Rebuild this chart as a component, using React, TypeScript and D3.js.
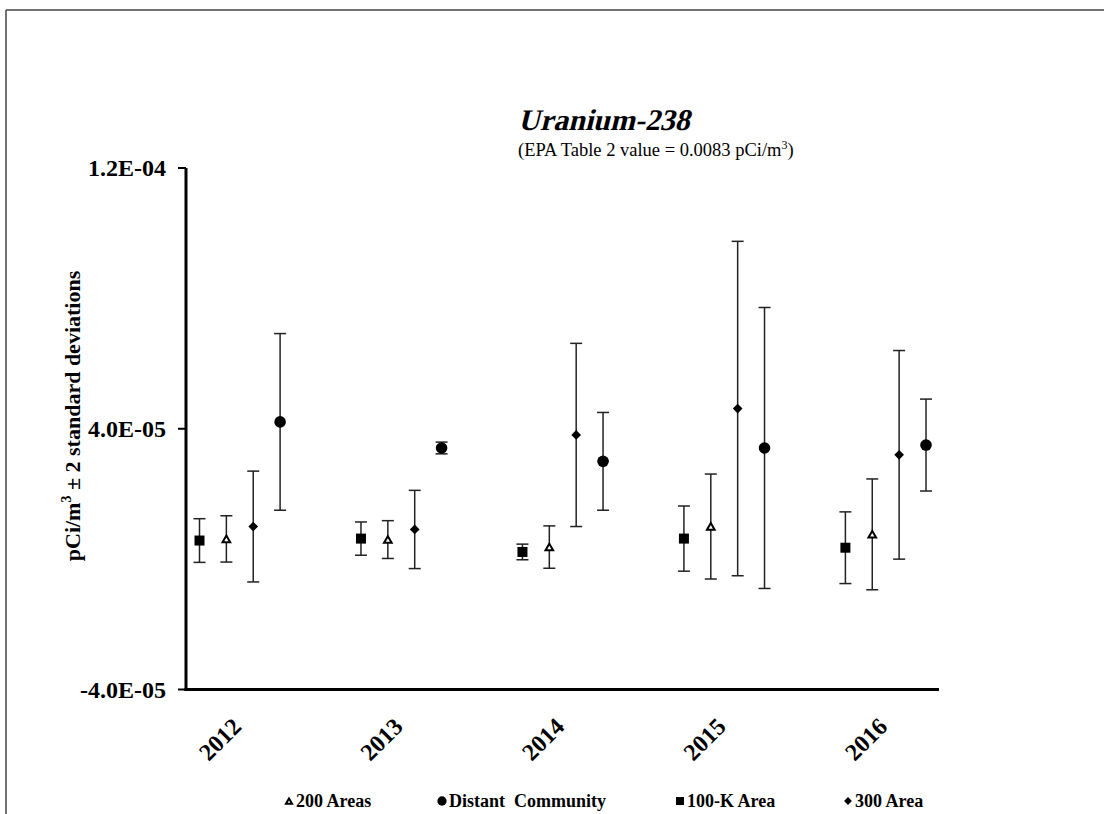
import * as d3 from "d3";

const years = ["2012", "2013", "2014", "2015", "2016"];
const seriesNames = ["100-K Area", "200 Areas", "300 Area", "Distant Community"];
// values and 2-sigma errors, pCi/m3
const k100 = [5.7e-6, 6.3e-6, 2.2e-6, 6.3e-6, 3.5e-6];
const k100Err = [6.7e-6, 5.1e-6, 2.4e-6, 1.0e-5, 1.1e-5];
const a200 = [6.2e-6, 6.0e-6, 3.7e-6, 1.0e-5, 7.6e-6];
const a200Err = [7.1e-6, 5.8e-6, 6.5e-6, 1.61e-5, 1.7e-5];
const a300 = [1.0e-5, 9.1e-6, 3.81e-5, 4.62e-5, 3.2e-5];
const a300Err = [1.7e-5, 1.2e-5, 2.81e-5, 5.13e-5, 3.2e-5];
const distant = [4.21e-5, 3.41e-5, 3.0e-5, 3.41e-5, 3.5e-5];
const distantErr = [2.71e-5, 1.8e-6, 1.5e-5, 4.31e-5, 1.41e-5];
const yTicks = [-4e-5, 4e-5, 1.2e-4];

const series = [
  { name: seriesNames[0], values: k100, errs: k100Err, shape: "square" },
  { name: seriesNames[1], values: a200, errs: a200Err, shape: "triangle" },
  { name: seriesNames[2], values: a300, errs: a300Err, shape: "diamond" },
  { name: seriesNames[3], values: distant, errs: distantErr, shape: "circle" },
];

// legend order as in the original
const legendItems = [
  { name: "200 Areas", shape: "triangle", x: 296 },
  { name: "Distant  Community", shape: "circle", x: 449 },
  { name: "100-K Area", shape: "square", x: 687 },
  { name: "300 Area", shape: "diamond", x: 855 },
];

const font = "'Liberation Serif', 'Times New Roman', serif";

const fmt = (d: number) => {
  const [m, e] = d.toExponential(1).split("e");
  const n = parseInt(e, 10);
  return `${m}E${n < 0 ? "-" : "+"}${String(Math.abs(n)).padStart(2, "0")}`;
};

const Marker = ({ shape, x, y, s = 1 }: { shape: string; x: number; y: number; s?: number }) => {
  if (shape === "square")
    return <rect x={x - 5 * s} y={y - 5 * s} width={10 * s} height={10 * s} fill="#000" />;
  if (shape === "circle") return <circle cx={x} cy={y} r={5.8 * s} fill="#000" />;
  if (shape === "diamond") {
    const p = d3.symbol().type(d3.symbolDiamond2).size(60 * s * s)();
    return <path d={p || ""} transform={`translate(${x},${y})`} fill="#000" />;
  }
  const p = d3.symbol().type(d3.symbolTriangle2).size(42 * s * s)();
  return (
    <path d={p || ""} transform={`translate(${x},${y + 1})`} fill="#fff" stroke="#000" strokeWidth={2} />
  );
};

export default function App() {
  const width = 1104;
  const height = 814;
  const left = 186;
  const right = 939;
  const bottom = 689.5;

  const y = d3.scaleLinear().domain([-4e-5, 1.2e-4]).range([bottom, 168]);
  const x = d3.scalePoint<string>().domain(years).range([239.8, 885.7]);
  const off = d3.scalePoint<string>().domain(seriesNames).range([-40.3, 40.3]);

  return (
    <svg width={width} height={height} style={{ display: "block", position: "absolute", left: 0, top: 0 }}>
      <rect width={width} height={height} fill="#fff" />
      {/* outer frame */}
      <line x1={6} x2={width} y1={10} y2={10} stroke="#444" strokeWidth={1.5} />
      <line x1={6} x2={6} y1={10} y2={height} stroke="#444" strokeWidth={1.5} />

      {/* title, bold serif slanted by hand */}
      <text
        transform="translate(518,130) skewX(-14)"
        fontFamily={font}
        fontSize={30}
        fontWeight="bold"
      >
        Uranium-238
      </text>
      <text x={518} y={156} fontFamily={font} fontSize={18.5}>
        (EPA Table 2 value = 0.0083 pCi/m
        <tspan fontSize={12} dy={-7}>3</tspan>
        <tspan dy={7}>)</tspan>
      </text>

      {/* y axis */}
      <line x1={left} x2={left} y1={y(1.2e-4)} y2={bottom + 1.5} stroke="#000" strokeWidth={3} />
      {yTicks.map((t) => (
        <g key={t}>
          <line x1={left - 8} x2={left} y1={y(t)} y2={y(t)} stroke="#000" strokeWidth={2} />
          <text
            x={166}
            y={y(t)}
            dy="0.35em"
            textAnchor="end"
            fontFamily={font}
            fontSize={24}
            fontWeight="bold"
          >
            {fmt(t)}
          </text>
        </g>
      ))}
      <text
        transform="translate(80,416) rotate(-90)"
        textAnchor="middle"
        fontFamily={font}
        fontSize={22}
        fontWeight="bold"
      >
        pCi/m<tspan fontSize={14} dy={-9}>3</tspan>
        <tspan dy={9}> ± 2 standard deviations</tspan>
      </text>

      {/* x axis */}
      <line x1={left - 1.5} x2={right} y1={bottom} y2={bottom} stroke="#000" strokeWidth={3} />
      {years.map((yr) => (
        <text
          key={yr}
          transform={`translate(${(x(yr) ?? 0) + 3},728) rotate(-45)`}
          textAnchor="end"
          fontFamily={font}
          fontSize={24}
          fontWeight="bold"
        >
          {yr}
        </text>
      ))}

      {/* error bars and markers */}
      {series.map((s) =>
        years.map((yr, i) => {
          const cx = (x(yr) ?? 0) + (off(s.name) ?? 0);
          const v = s.values[i];
          const e = s.errs[i];
          const y0 = y(v - e);
          const y1 = y(v + e);
          return (
            <g key={s.name + yr}>
              <line x1={cx} x2={cx} y1={y1} y2={y0} stroke="#222" strokeWidth={1.5} />
              <line x1={cx - 6} x2={cx + 6} y1={y1} y2={y1} stroke="#222" strokeWidth={1.5} />
              <line x1={cx - 6} x2={cx + 6} y1={y0} y2={y0} stroke="#222" strokeWidth={1.5} />
              <Marker shape={s.shape} x={cx} y={y(v)} />
            </g>
          );
        })
      )}

      {/* legend */}
      {legendItems.map((l) => (
        <g key={l.name}>
          <Marker shape={l.shape} x={l.x - 7} y={801} s={0.8} />
          <text x={l.x} y={807} fontFamily={font} fontSize={18} fontWeight="bold" style={{ whiteSpace: "pre" }}>
            {l.name}
          </text>
        </g>
      ))}
    </svg>
  );
}
